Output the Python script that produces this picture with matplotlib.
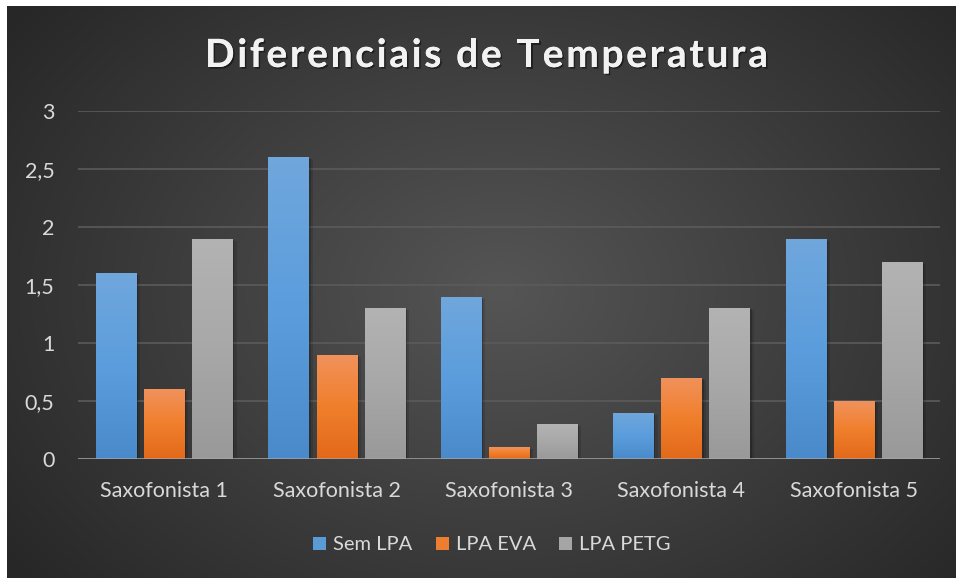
import numpy as np
import matplotlib
matplotlib.use("Agg")
import matplotlib.pyplot as plt
import matplotlib.patheffects as pe
from matplotlib.patches import Patch
from matplotlib.colors import LinearSegmentedColormap, to_rgb

categories = ["Saxofonista 1", "Saxofonista 2", "Saxofonista 3", "Saxofonista 4", "Saxofonista 5"]
series_names = ["Sem LPA", "LPA EVA", "LPA PETG"]
sem_lpa = [1.6, 2.6, 1.4, 0.4, 1.9]
lpa_eva = [0.6, 0.9, 0.1, 0.7, 0.5]
lpa_petg = [1.9, 1.3, 0.3, 1.3, 1.7]
y_ticks = [0, 0.5, 1, 1.5, 2, 2.5, 3]
y_tick_labels = ["0", "0,5", "1", "1,5", "2", "2,5", "3"]
title = "Diferenciais de Temperatura"

# gradient stops (top, middle, bottom) per series
grad_colors = [
    ["#70a7dc", "#5b9ddd", "#4a8acb"],
    ["#f1925c", "#f07f2c", "#e2691a"],
    ["#b3b3b3", "#a8a8a8", "#999999"],
]
legend_colors = ["#5b9bd5", "#ed7d31", "#a5a5a5"]

TXT = "#d9d9d9"
FONT = "Lato"
FS = 15.5

W, H = 956, 578
fig = plt.figure(figsize=(W / 100, H / 100), dpi=100, facecolor="white")

# background with radial gradient
bg = fig.add_axes([7 / W, 0, (W - 7) / W, (H - 6) / H])
bg.set_axis_off()
yy, xx = np.mgrid[0:1:300j, 0:1:500j]
r = np.sqrt(((xx - 0.52) / 0.65) ** 2 + ((yy - 0.5) / 0.8) ** 2)
r = np.clip(r, 0, 1)
c0, c1 = np.array(to_rgb("#555555")), np.array(to_rgb("#272727"))
img = c0[None, None, :] * (1 - r[..., None]) + c1[None, None, :] * r[..., None]
bg.imshow(img, extent=(0, 1, 0, 1), aspect="auto", origin="lower")
bg.set_xlim(0, 1)
bg.set_ylim(0, 1)

# main axes
left, right = 78 / W, 940 / W
bottom, top = (H - 459) / H, (H - 111) / H
ax = fig.add_axes([left, bottom, right - left, top - bottom])
ax.set_facecolor("none")
for s in ax.spines.values():
    s.set_visible(False)

x = np.arange(len(categories))
step = 48 / 172
width = 40 / 172
all_series = [sem_lpa, lpa_eva, lpa_petg]
shadow = [pe.withSimplePatchShadow(offset=(3, -1.5), shadow_rgbFace="black", alpha=0.12),
          pe.withSimplePatchShadow(offset=(1.5, -0.8), shadow_rgbFace="black", alpha=0.2),
          pe.Normal()]
for i, vals in enumerate(all_series):
    cmap = LinearSegmentedColormap.from_list("g%d" % i, grad_colors[i])
    bars = ax.bar(x + (i - 1) * step, vals, width, color=grad_colors[i][1], zorder=3,
                  path_effects=shadow)
    for b in bars:
        x0 = b.get_x()
        h = b.get_height()
        grad = np.linspace(0, 1, 256)[:, None]
        im = ax.imshow(grad, cmap=cmap, extent=(x0, x0 + b.get_width(), 0, h), origin="upper",
                       aspect="auto", zorder=3.5, interpolation="bilinear")
        im.set_clip_path(b)

ax.set_xlim(-0.5, len(categories) - 0.5)
ax.set_ylim(0, 3)
ax.set_yticks(y_ticks)
ax.set_yticklabels(y_tick_labels)
ax.set_xticks(x)
ax.set_xticklabels(categories)
ax.tick_params(axis="both", length=0, colors=TXT, labelsize=FS)
ax.tick_params(axis="y", pad=17)
ax.tick_params(axis="x", pad=16)
for lab in ax.get_xticklabels() + ax.get_yticklabels():
    lab.set_fontfamily(FONT)
ax.set_axisbelow(True)
ax.yaxis.grid(True, color="#5b5b5b", lw=1.2, zorder=0)
ax.axhline(0, color="#a8a8a8", lw=1.8, zorder=5, alpha=0.9)

# legend
handles = [Patch(facecolor=c, edgecolor="none") for c in legend_colors]
leg = fig.legend(handles, series_names, loc="center", bbox_to_anchor=(492 / W, 1 - 545 / H),
                 ncol=3, frameon=False, handlelength=0.65, handleheight=0.65, handletextpad=0.35,
                 columnspacing=1.15, prop={"family": FONT, "size": 14.5})
for t in leg.get_texts():
    t.set_color(TXT)

# title with letter spacing
fig.canvas.draw()
renderer = fig.canvas.get_renderer()
tprops = dict(fontsize=28, fontweight="bold", family=FONT, color="#f2f2f2")

def text_w(s):
    t = fig.text(0, 0, s, **tprops)
    w = t.get_window_extent(renderer).width
    t.remove()
    return w

space_w = text_w("x x") - text_w("xx")
widths = [space_w if ch == " " else text_w(ch) for ch in title]
target = 563.0
spacing = (target - sum(widths)) / (len(title) - 1)
cx = 486.5
xpos = cx - target / 2
baseline_y = H - 67
for ch, w in zip(title, widths):
    if ch != " ":
        fig.text(xpos / W, baseline_y / H, ch, ha="left", va="baseline",
                 path_effects=[pe.withSimplePatchShadow(offset=(1.2, -1.2), shadow_rgbFace="black", alpha=0.45),
                               pe.Normal()], **tprops)
    xpos += w + spacing

fig.savefig("out.png", dpi=100, facecolor="white")
